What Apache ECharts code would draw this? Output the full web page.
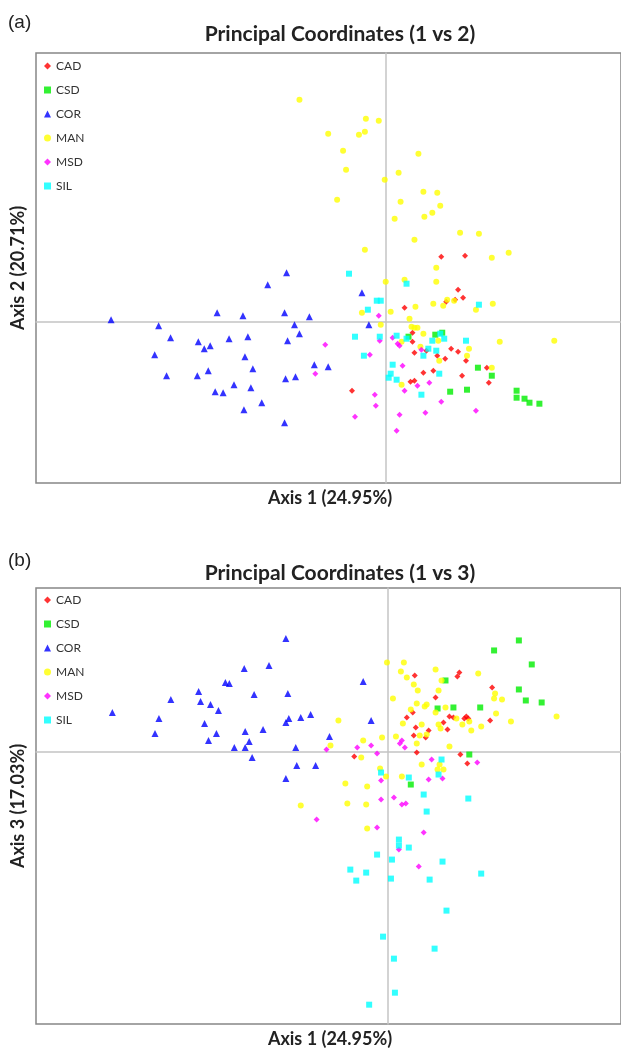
<!DOCTYPE html>
<html>
<head>
<meta charset="utf-8">
<script src="https://cdn.jsdelivr.net/npm/echarts@6/dist/echarts.min.js"></script>
<style>
html,body{margin:0;padding:0;background:#fff;}
#chart{width:621px;height:1051px;}
</style>
</head>
<body>
<div id="chart"></div>
<script>
// ---------- DATA ----------
const groups = ['CAD', 'CSD', 'COR', 'MAN', 'MSD', 'SIL'];
const panelLabels = ['(a)', '(b)'];
const panelTitles = ['Principal Coordinates (1 vs 2)', 'Principal Coordinates (1 vs 3)'];
const xAxisTitles = ['Axis 1 (24.95%)', 'Axis 1 (24.95%)'];
const yAxisTitles = ['Axis 2 (20.71%)', 'Axis 3 (17.03%)'];

// Panel (a): Axis 1 vs Axis 2
const a_CAD = [[0.56,0.65],[0.80,0.66],[0.73,0.32],[0.78,0.24],[0.70,0.22],[0.61,0.20],[0.19,0.14],[0.27,-0.11],[0.27,-0.20],[0.29,-0.31],[0.41,-0.29],[0.52,-0.34],[0.60,-0.37],[0.66,-0.27],[0.73,-0.30],[0.81,-0.39],[1.02,-0.46],[0.77,-0.54],[1.04,-0.61],[0.38,-0.51],[0.48,-0.49],[0.25,-0.60],[0.29,-0.59],[-0.34,-0.69]];
const a_CSD = [[0.50,-0.13],[0.57,-0.11],[0.23,-0.15],[0.93,-0.46],[1.07,-0.54],[0.65,-0.70],[0.82,-0.68],[1.32,-0.69],[1.32,-0.76],[1.40,-0.77],[1.45,-0.81],[1.55,-0.82]];
const a_COR = [[-2.77,0.02],[-2.29,-0.04],[-2.17,-0.16],[-2.33,-0.33],[-2.21,-0.54],[-1.89,-0.20],[-1.83,-0.27],[-1.77,-0.24],[-1.90,-0.54],[-1.79,-0.49],[-1.70,0.09],[-1.58,-0.17],[-1.72,-0.70],[-1.64,-0.71],[-1.53,-0.63],[-1.44,0.06],[-1.39,-0.15],[-1.42,-0.35],[-1.34,-0.47],[-1.36,-0.66],[-1.43,-0.88],[-1.25,-0.81],[-1.19,0.37],[-1.00,0.49],[-1.02,0.09],[-0.92,-0.03],[-0.87,-0.12],[-0.99,-0.19],[-0.77,0.05],[-0.72,-0.43],[-0.58,-0.45],[-1.01,-0.57],[-0.91,-0.55],[-1.02,-1.01],[-0.24,0.29],[-0.17,-0.03]];
const a_MAN = [[-0.87,2.22],[-0.20,2.03],[-0.07,2.01],[-0.58,1.88],[-0.27,1.87],[-0.21,1.90],[-0.43,1.71],[0.33,1.68],[-0.40,1.52],[0.13,1.49],[-0.01,1.42],[0.38,1.30],[0.52,1.29],[-0.49,1.22],[0.15,1.20],[0.55,1.16],[0.47,1.09],[0.39,1.05],[0.09,1.03],[0.75,0.89],[0.94,0.88],[0.29,0.82],[-0.21,0.72],[1.07,0.64],[1.24,0.69],[0.51,0.54],[0.00,0.40],[0.19,0.42],[0.51,0.40],[-0.24,0.09],[0.05,0.10],[0.30,0.15],[0.48,0.18],[0.58,0.16],[0.62,0.22],[0.69,0.21],[0.91,0.12],[1.08,0.18],[-0.05,-0.03],[0.24,0.03],[0.26,-0.05],[0.29,-0.06],[0.32,-0.06],[0.38,-0.12],[0.16,-0.20],[0.35,-0.25],[0.53,-0.19],[0.84,-0.27],[0.82,-0.34],[0.54,-0.39],[1.15,-0.20],[1.70,-0.19],[1.07,-0.46],[0.16,-0.63]];
const a_MSD = [[-0.61,-0.23],[-0.71,-0.52],[-0.07,0.06],[-0.06,-0.19],[0.07,-0.16],[0.12,-0.22],[0.14,-0.24],[-0.16,-0.33],[0.36,-0.28],[0.17,-0.44],[0.44,-0.61],[0.32,-0.64],[0.19,-0.69],[-0.11,-0.73],[-0.10,-0.84],[0.56,-0.80],[0.91,-0.89],[0.40,-0.91],[0.14,-0.93],[-0.31,-0.95],[0.11,-1.09]];
const a_SIL = [[-0.37,0.48],[0.21,0.38],[-0.09,0.21],[-0.05,0.21],[-0.18,0.12],[0.94,0.17],[-0.31,-0.15],[-0.06,-0.15],[0.11,-0.14],[0.21,-0.17],[0.47,-0.19],[0.55,-0.12],[0.59,-0.17],[0.81,-0.19],[0.43,-0.27],[0.51,-0.29],[0.38,-0.34],[-0.22,-0.34],[0.07,-0.43],[0.05,-0.52],[0.03,-0.56],[0.11,-0.58],[0.54,-0.52],[0.36,-0.73]];

// Panel (b): Axis 1 vs Axis 3
const b_CAD = [[0.27,0.76],[0.70,0.75],[0.72,0.79],[1.05,0.64],[0.48,0.54],[0.19,0.34],[0.25,0.39],[0.62,0.35],[0.66,0.34],[0.77,0.33],[0.79,0.35],[0.81,0.33],[1.03,0.31],[0.56,0.29],[0.28,0.24],[0.41,0.21],[0.60,0.22],[0.26,0.16],[0.38,0.14],[0.29,-0.01],[-0.34,-0.05],[0.73,-0.03],[0.80,-0.12]];
const b_CSD = [[1.32,1.11],[1.07,1.01],[1.45,0.87],[1.32,0.62],[1.39,0.51],[1.55,0.49],[0.93,0.44],[0.58,0.71],[0.50,0.43],[0.66,0.44],[0.82,-0.03],[0.23,-0.33]];
const b_COR = [[-2.78,0.39],[-2.35,0.18],[-2.31,0.33],[-2.19,0.52],[-1.91,0.60],[-1.89,0.50],[-1.79,0.47],[-1.71,0.41],[-1.85,0.28],[-1.73,0.18],[-1.81,0.11],[-1.64,0.69],[-1.60,0.68],[-1.45,0.83],[-1.35,0.57],[-1.44,0.20],[-1.40,0.10],[-1.55,0.04],[-1.44,0.04],[-1.37,-0.06],[-1.20,0.86],[-1.03,1.13],[-1.01,0.58],[-1.00,0.33],[-1.03,0.29],[-0.88,0.34],[-0.78,0.37],[-1.26,0.22],[-0.93,0.04],[-0.92,-0.14],[-0.73,-0.14],[-1.03,-0.27],[-0.25,0.70],[-0.17,0.31],[-0.59,0.15]];
const b_MAN = [[-0.01,0.89],[0.16,0.89],[0.13,0.80],[0.19,0.74],[0.48,0.82],[0.91,0.78],[0.54,0.71],[0.26,0.67],[0.30,0.61],[0.51,0.61],[1.08,0.58],[1.07,0.53],[1.15,0.52],[0.05,0.53],[0.29,0.48],[0.39,0.47],[0.37,0.45],[0.58,0.44],[0.23,0.42],[0.48,0.39],[1.09,0.38],[0.69,0.33],[0.82,0.30],[1.24,0.30],[1.70,0.35],[-0.50,0.31],[0.15,0.28],[0.34,0.27],[0.51,0.27],[0.53,0.23],[0.75,0.27],[0.94,0.25],[0.84,0.21],[0.32,0.16],[0.39,0.17],[0.08,0.15],[-0.06,0.14],[-0.25,0.11],[-0.58,0.06],[0.29,0.08],[0.62,0.05],[-0.27,-0.06],[0.34,-0.13],[0.52,-0.13],[0.56,-0.18],[0.50,-0.18],[-0.08,-0.17],[-0.02,-0.25],[0.14,-0.25],[-0.43,-0.32],[-0.21,-0.35],[-0.88,-0.54],[-0.41,-0.52],[-0.22,-0.53],[-0.21,-0.77]];
const b_MSD = [[0.14,0.11],[0.12,0.08],[0.17,0.04],[-0.17,0.06],[-0.31,0.04],[-0.62,0.02],[-0.11,-0.02],[0.44,-0.08],[0.90,-0.11],[-0.07,-0.29],[0.41,-0.28],[0.55,-0.27],[0.06,-0.46],[-0.07,-0.48],[0.14,-0.53],[0.18,-0.52],[-0.72,-0.68],[-0.11,-0.76],[0.36,-0.81],[0.11,-0.98],[0.31,-1.15]];
const b_SIL = [[0.54,-0.08],[-0.07,-0.21],[0.21,-0.26],[0.51,-0.23],[0.36,-0.43],[0.81,-0.47],[0.39,-0.60],[0.11,-0.88],[0.11,-0.94],[0.21,-0.96],[-0.11,-1.03],[0.04,-1.08],[0.55,-1.10],[-0.38,-1.18],[-0.22,-1.21],[-0.32,-1.29],[0.03,-1.27],[0.42,-1.28],[0.94,-1.22],[0.59,-1.59],[-0.05,-1.85],[0.47,-1.97],[0.06,-2.07],[0.07,-2.41],[-0.19,-2.53]];

// axis extents (visible window of each panel)
const a_xRange = [-3.527, 2.373];
const a_yRange = [-1.613, 2.687];
const b_xRange = [-3.55, 2.35];
const b_yRange = [-2.723, 1.634];

// ---------- STYLE ----------
const panelData = [
  [a_CAD, a_CSD, a_COR, a_MAN, a_MSD, a_SIL],
  [b_CAD, b_CSD, b_COR, b_MAN, b_MSD, b_SIL]
];
const groupStyle = {
  CAD: {symbol: 'diamond', size: 6, color: '#ff0000'},
  CSD: {symbol: 'rect', size: 6, color: '#00ee00'},
  COR: {symbol: 'triangle', size: 7, color: '#0000ff'},
  MAN: {symbol: 'circle', size: 6, color: '#ffff00'},
  MSD: {symbol: 'diamond', size: 6, color: '#ff00ff'},
  SIL: {symbol: 'rect', size: 6, color: '#00ffff'}
};

const grids = [
  {left: 36, top: 53, width: 590, height: 430},
  {left: 36, top: 588, width: 590, height: 436}
];
const ranges = [[a_xRange, a_yRange], [b_xRange, b_yRange]];

const chart = echarts.init(document.getElementById('chart'), null, {renderer: 'canvas'});

const axisCommon = {
  type: 'value',
  axisTick: {show: false},
  axisLabel: {show: false},
  splitLine: {show: false},
  axisLine: {show: true, onZero: true, lineStyle: {color: '#c4c4c4', width: 1.5}}
};

const series = [];
panelData.forEach((sets, p) => {
  sets.forEach((data, g) => {
    const st = groupStyle[groups[g]];
    series.push({
      name: groups[g],
      type: 'scatter',
      xAxisIndex: p,
      yAxisIndex: p,
      symbol: st.symbol,
      symbolSize: st.size,
      itemStyle: {color: st.color},
      data: data,
      silent: true
    });
  });
});

const legendCommon = {
  orient: 'vertical',
  left: 44,
  padding: 0,
  itemWidth: 7,
  itemHeight: 7,
  itemGap: 12,
  selectedMode: false,
  textStyle: {fontFamily: 'Lato', fontSize: 12, color: '#333', lineHeight: 12},
  data: groups
};

const graphics = [];
const titleY = [34, 573];
const labelY = [23, 561];
const xNameY = [498, 1039];
panelLabels.forEach((lab, p) => {
  const g = grids[p];
  graphics.push({type: 'text', left: 8, top: labelY[p] - 10,
    style: {text: lab, font: '19px "Liberation Sans"', fill: '#222'}});
  graphics.push({type: 'text', x: 340, y: titleY[p],
    style: {text: panelTitles[p], font: 'bold 21px Lato', fill: '#222', textAlign: 'center', textVerticalAlign: 'middle'}});
  graphics.push({type: 'text', x: 330, y: xNameY[p],
    style: {text: xAxisTitles[p], font: 'bold 18px Lato', fill: '#222', textAlign: 'center', textVerticalAlign: 'middle'}});
  graphics.push({type: 'text', x: 18, y: g.top + g.height / 2, rotation: Math.PI / 2,
    style: {text: yAxisTitles[p], font: 'bold 18px Lato', fill: '#222', textAlign: 'center', textVerticalAlign: 'middle'}});
});

chart.setOption({
  animation: false,
  backgroundColor: '#fff',
  grid: grids.map(g => Object.assign({show: true, borderColor: '#878787', borderWidth: 1.5, backgroundColor: '#fff'}, g)),
  xAxis: ranges.map((r, p) => Object.assign({}, axisCommon, {gridIndex: p, min: r[0][0], max: r[0][1]})),
  yAxis: ranges.map((r, p) => Object.assign({}, axisCommon, {gridIndex: p, min: r[1][0], max: r[1][1]})),
  legend: [
    Object.assign({}, legendCommon, {top: 60}),
    Object.assign({}, legendCommon, {top: 594})
  ],
  graphic: graphics,
  series: series
});
</script>
</body>
</html>
